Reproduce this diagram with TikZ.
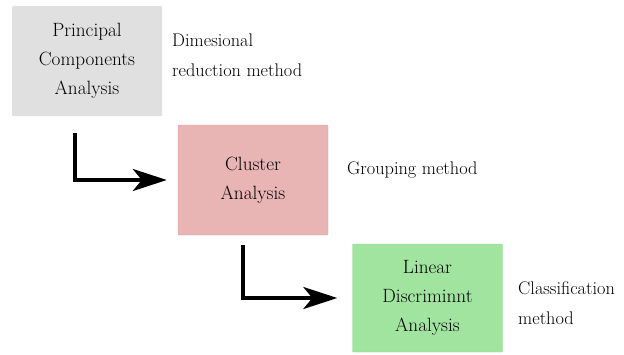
\documentclass[tikz,border=0pt]{standalone}
\usepackage{xcolor}
\usepackage{tikz}
\usetikzlibrary{arrows.meta, positioning}

\definecolor{pcagray}{HTML}{E0E0E0}
\definecolor{clusterpink}{HTML}{E8B4B4}
\definecolor{clusteredge}{HTML}{DDA2A2}
\definecolor{ldagreen}{HTML}{A0E4A0}
\definecolor{ldaedge}{HTML}{92DA92}

\begin{document}
\begin{tikzpicture}[x=1pt, y=-1pt]
    \tikzstyle{method} = [rectangle, rounded corners=1pt, minimum width=150pt, minimum height=110pt, text centered, align=center, font=\fontsize{19.2}{29}\selectfont]
    \tikzstyle{note} = [anchor=west, inner sep=0pt, align=left, font=\fontsize{18.3}{30}\selectfont]
    \tikzstyle{arrow} = [line width=3.6pt, -{Stealth[length=34pt, width=22pt, inset=9pt]}]

    \useasboundingbox (0,0) rectangle (624,354);

    \node (pca) [method, fill=pcagray] at (87,61) {Principal\\Components\\Analysis};
    \node (cluster) [method, fill=clusterpink, draw=clusteredge] at (253,180) {Cluster\\Analysis};
    \node (lda) [method, fill=ldagreen, draw=ldaedge, minimum height=108pt] at (427.5,298) {Linear\\Discriminnt\\Analysis};

    \node (pcanote) [note] at (172,55) {Dimesional\\reduction method};
    \node (clusternote) [note] at (347,170) {Grouping method};
    \node (ldanote) [note] at (518,303) {Classification\\method};

    \draw [arrow, shorten >=11pt] ([xshift=-12pt, yshift=-17pt]pca.south) |- (cluster.west);
    \draw [arrow, shorten >=15pt] ([xshift=-10pt, yshift=-10pt]cluster.south) |- (lda.west);
\end{tikzpicture}
\end{document}
